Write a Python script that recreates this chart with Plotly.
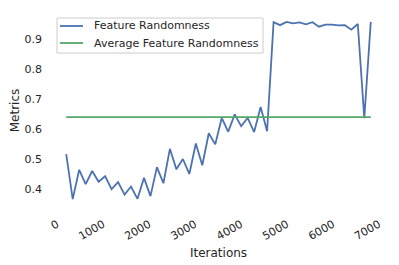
import plotly.graph_objects as go

iterations = [200, 341, 482, 623, 764, 905, 1046, 1187, 1328, 1469, 1610, 1751,
              1892, 2033, 2174, 2315, 2456, 2597, 2738, 2879, 3020, 3161, 3302, 3443,
              3584, 3725, 3866, 4007, 4148, 4289, 4430, 4571, 4712, 4853, 4994, 5135,
              5276, 5417, 5558, 5699, 5840, 5981, 6122, 6263, 6404, 6545, 6686, 6827]
feature_randomness = [0.516, 0.366, 0.464, 0.416, 0.460, 0.424, 0.443, 0.399, 0.423, 0.381,
                      0.408, 0.367, 0.437, 0.376, 0.473, 0.419, 0.534, 0.466, 0.500, 0.450,
                      0.552, 0.479, 0.586, 0.549, 0.637, 0.591, 0.649, 0.610, 0.637, 0.590,
                      0.674, 0.593, 0.957, 0.947, 0.958, 0.953, 0.956, 0.950, 0.957, 0.942,
                      0.949, 0.949, 0.946, 0.947, 0.932, 0.951, 0.636, 0.958]
average_value = 0.64
y_ticks = [0.4, 0.5, 0.6, 0.7, 0.8, 0.9]
x_ticks = [0, 1000, 2000, 3000, 4000, 5000, 6000, 7000]
series_names = ["Feature Randomness", "Average Feature Randomness"]
series_colors = ["#4c72b0", "#55a868"]

W, H = 391, 257
ML, MR, MT, MB = 43, 13, 5, 57
PW, PH = W - ML - MR, H - MT - MB

def px(x):  # figure pixel -> paper x
    return (x - ML) / PW

def py(y):  # figure pixel -> paper y
    return 1 - (y - MT) / PH

fig = go.Figure()
fig.add_trace(go.Scatter(x=iterations, y=feature_randomness, mode="lines",
                         name=series_names[0],
                         line=dict(color=series_colors[0], width=1.8)))
fig.add_trace(go.Scatter(x=iterations, y=[average_value] * len(iterations), mode="lines",
                         name=series_names[1],
                         line=dict(color=series_colors[1], width=1.8)))

# legend box drawn like matplotlib's
shapes = [dict(type="rect", xref="paper", yref="paper",
               x0=px(49), x1=px(255), y0=py(45), y1=py(10),
               line=dict(color="#cccccc", width=1), fillcolor="rgba(255,255,255,0.8)",
               layer="above")]
annotations = []
for i, (name, col) in enumerate(zip(series_names, series_colors)):
    yy = 18 + 17 * i
    shapes.append(dict(type="line", xref="paper", yref="paper",
                       x0=px(52), x1=px(75), y0=py(yy), y1=py(yy),
                       line=dict(color=col, width=1.8), layer="above"))
    annotations.append(dict(xref="paper", yref="paper", x=px(84), y=py(yy),
                            xanchor="left", yanchor="middle", showarrow=False,
                            text=name, font=dict(size=11, color="#262626")))

span = max(iterations) - min(iterations)
yspan = max(feature_randomness) - min(feature_randomness)
fig.update_layout(
    width=W, height=H,
    margin=dict(l=ML, r=MR, t=MT, b=MB, autoexpand=False),
    paper_bgcolor="white", plot_bgcolor="white",
    font=dict(family="DejaVu Sans", size=11, color="#262626"),
    showlegend=False,
    shapes=shapes, annotations=annotations,
    xaxis=dict(range=[min(iterations) - 0.05 * span, max(iterations) + 0.05 * span],
               tickvals=x_ticks, ticktext=[str(v) for v in x_ticks], tickangle=-30,
               showgrid=False, zeroline=False, showline=False, automargin=False,
               title=dict(text="Iterations", font=dict(size=12), standoff=6),
               ticklabelstandoff=7),
    yaxis=dict(range=[min(feature_randomness) - 0.05 * yspan, max(feature_randomness) + 0.05 * yspan],
               tickvals=y_ticks, ticktext=[f"{v:.1f}" for v in y_ticks],
               showgrid=False, zeroline=False, showline=False, automargin=False,
               title=dict(text="Metrics", font=dict(size=12), standoff=6),
               ticklabelstandoff=8),
)
fig.write_html("out.html")
